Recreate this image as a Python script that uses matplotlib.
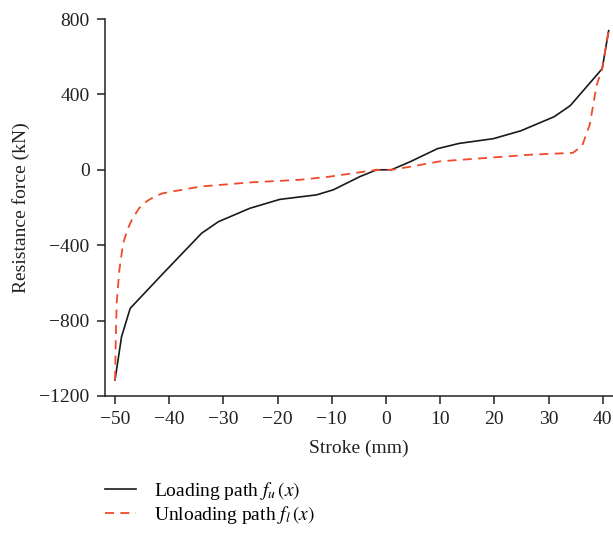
import matplotlib
matplotlib.use("Agg")
import matplotlib.pyplot as plt

plt.rcParams['font.family'] = ['Liberation Serif', 'DejaVu Serif']
plt.rcParams['mathtext.fontset'] = 'stix'

load_x = [-50, -48.8, -47.2, -41.1, -34, -30.9, -25.1, -19.6, -12.8, -9.7, -4.8, -1.7,
          1.0, 4.4, 9.5, 13.5, 19.8, 24.9, 31, 34, 39.9, 41.1]
load_y = [-1115, -886, -735, -549, -336, -275, -204, -157, -133, -106, -36, 0,
          0, 42, 112, 140, 165, 207, 281, 340, 536, 738]

unload_x = [-50, -49.85, -49.7, -49.2, -48.5, -47.6, -46.9, -45.6, -44.2, -42.5, -41.1, -34.3,
            -25.1, -15.9, -10.3, -1.7, 1.0, 4.4, 10, 26.6, 34.5, 36.2, 37.6, 38.9, 39.9, 41.1]
unload_y = [-1115, -880, -708, -531, -389, -310, -266, -205, -168, -138, -124, -89,
            -67, -53, -36, 0, 0, 16, 45, 80, 90, 127, 239, 451, 536, 738]

x_ticks = [-50, -40, -30, -20, -10, 0, 10, 20, 30, 40]
y_ticks = [-1200, -800, -400, 0, 400, 800]

fig = plt.figure(figsize=(6.13, 5.33), dpi=100)
ax = fig.add_axes([105/613, 137/533, 508/613, 377/533])

ax.plot(load_x, load_y, color='#1a1a1a', lw=1.2, label=r'Loading path $f_u\,(x)$', zorder=2)
ax.plot(unload_x, unload_y, color='#f04a2a', lw=1.3, ls=(0, (5, 3.5)),
        label=r'Unloading path $f_l\,(x)$', zorder=3)

ax.set_xlim(-51.85, 41.9)
ax.set_ylim(-1200, 800)
ax.set_xticks(x_ticks)
ax.set_yticks(y_ticks)
for s in ['top', 'right']:
    ax.spines[s].set_visible(False)
for s in ['left', 'bottom']:
    ax.spines[s].set_linewidth(1.1)
    ax.spines[s].set_color('#222222')
ax.tick_params(direction='out', length=6, width=1.1, labelsize=14, colors='#222222', pad=5)
ax.set_xlabel('Stroke (mm)', fontsize=14, color='#222222', labelpad=8)
ax.set_ylabel('Resistance force (kN)', fontsize=14, color='#222222', labelpad=7)

fig.legend(loc='upper left', bbox_to_anchor=(105/613, 1 - 480/533), frameon=False,
           fontsize=14, handlelength=1.6, handletextpad=0.9, labelspacing=0.08,
           borderaxespad=0, borderpad=0)

fig.savefig('out.png', dpi=100)
